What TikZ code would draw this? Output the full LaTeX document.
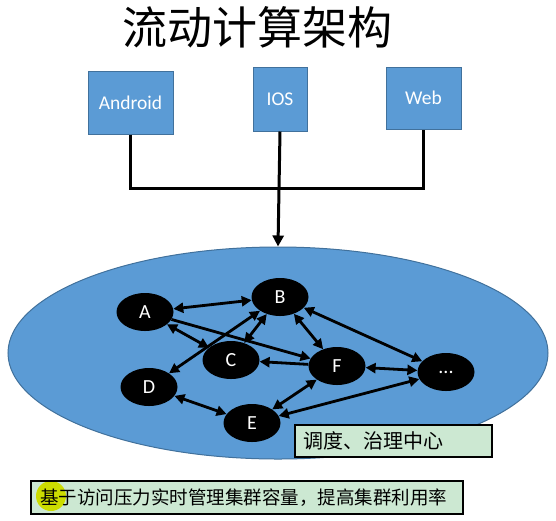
\documentclass[tikz,border=0pt]{standalone}
\usepackage{fontspec}
\setmainfont{Carlito}
\newfontfamily\cjk{Noto Sans CJK SC}
\usetikzlibrary{shapes.geometric,arrows.meta}

\definecolor{slideblue}{HTML}{5B9BD5}
\definecolor{slideedge}{HTML}{41719C}
\definecolor{notegreen}{HTML}{CCE8D2}

\tikzset{
  client/.style={draw=slideedge,line width=1pt,fill=slideblue,text=white,
    inner sep=0pt,font=\fontsize{19.5}{22}\selectfont},
  svc/.style={ellipse,fill=black,text=white,inner sep=0pt,
    minimum width=57pt,minimum height=38pt,font=\fontsize{20}{22}\selectfont},
  link/.style={line width=2.8pt,<->},
  bus/.style={line width=3pt},
  note/.style={draw,line width=1.6pt,fill=notegreen,inner xsep=8pt,
    inner ysep=0pt,align=left},
}

\begin{document}
\begin{tikzpicture}[x=1pt,y=-1pt,>={Triangle[length=10pt,width=10pt]}]
\useasboundingbox (0,0) rectangle (556,520);

\node[font=\cjk\fontsize{45}{50}\selectfont] (title) at (257,27) {流动计算架构};

% clients
\node[client,minimum width=85pt,minimum height=63pt] (android) at (130.5,102.5) {Android};
\node[client,minimum width=54pt,minimum height=64pt] (ios) at (280,99) {IOS};
\node[client,minimum width=75pt,minimum height=62pt] (webs) at (423.5,98) {Web};

% platform
\node[ellipse,draw=slideedge,line width=1pt,fill=slideblue,
  minimum width=540pt,minimum height=212pt] (hub) at (278,353) {};

\coordinate (join) at (280,188);
\draw[bus] (android.south) |- (join) -| (webs.south);
\draw[bus,-{Triangle[length=11pt,width=11pt]}] (ios.south) -- (hub.north);

% services
\node[svc] (A) at (145,312) {A};
\node[svc] (B) at (280,297) {B};
\node[svc] (C) at (231,360) {C};
\node[svc] (D) at (149,387) {D};
\node[svc] (E) at (252,423) {E};
\node[svc] (F) at (337,366) {F};
\node[svc] (more) at (446,372) {...};

\draw[link] (A) -- (B);
\draw[link] (A) -- (C);
\draw[line width=2.8pt,->] (A) -- (F);
\draw[link] (B) -- (D);
\draw[link] (B) -- (C);
\draw[line width=2.8pt,->] (F) -- (C);
\draw[link] (D) -- (E);
\draw[link] (E) -- (F);
\draw[link] (B) -- (F);
\draw[link] (B) -- (more);
\draw[link] (F) -- (more);
\draw[link] (E) -- (more);

% notes
\node[note,text width=181pt,minimum height=32pt,
  font=\cjk\fontsize{20}{22}\selectfont] (center) at (393.5,441) {调度、治理中心};
\node[note,text width=414pt,inner xsep=9pt,minimum height=33pt,
  font=\cjk\fontsize{18.5}{22}\selectfont] (load) at (247,497.5)
  {基于访问压力实时管理集群容量，提高集群利用率};
\fill[yellow,blend mode=multiply] (51,496) circle (15pt);
\end{tikzpicture}
\end{document}
